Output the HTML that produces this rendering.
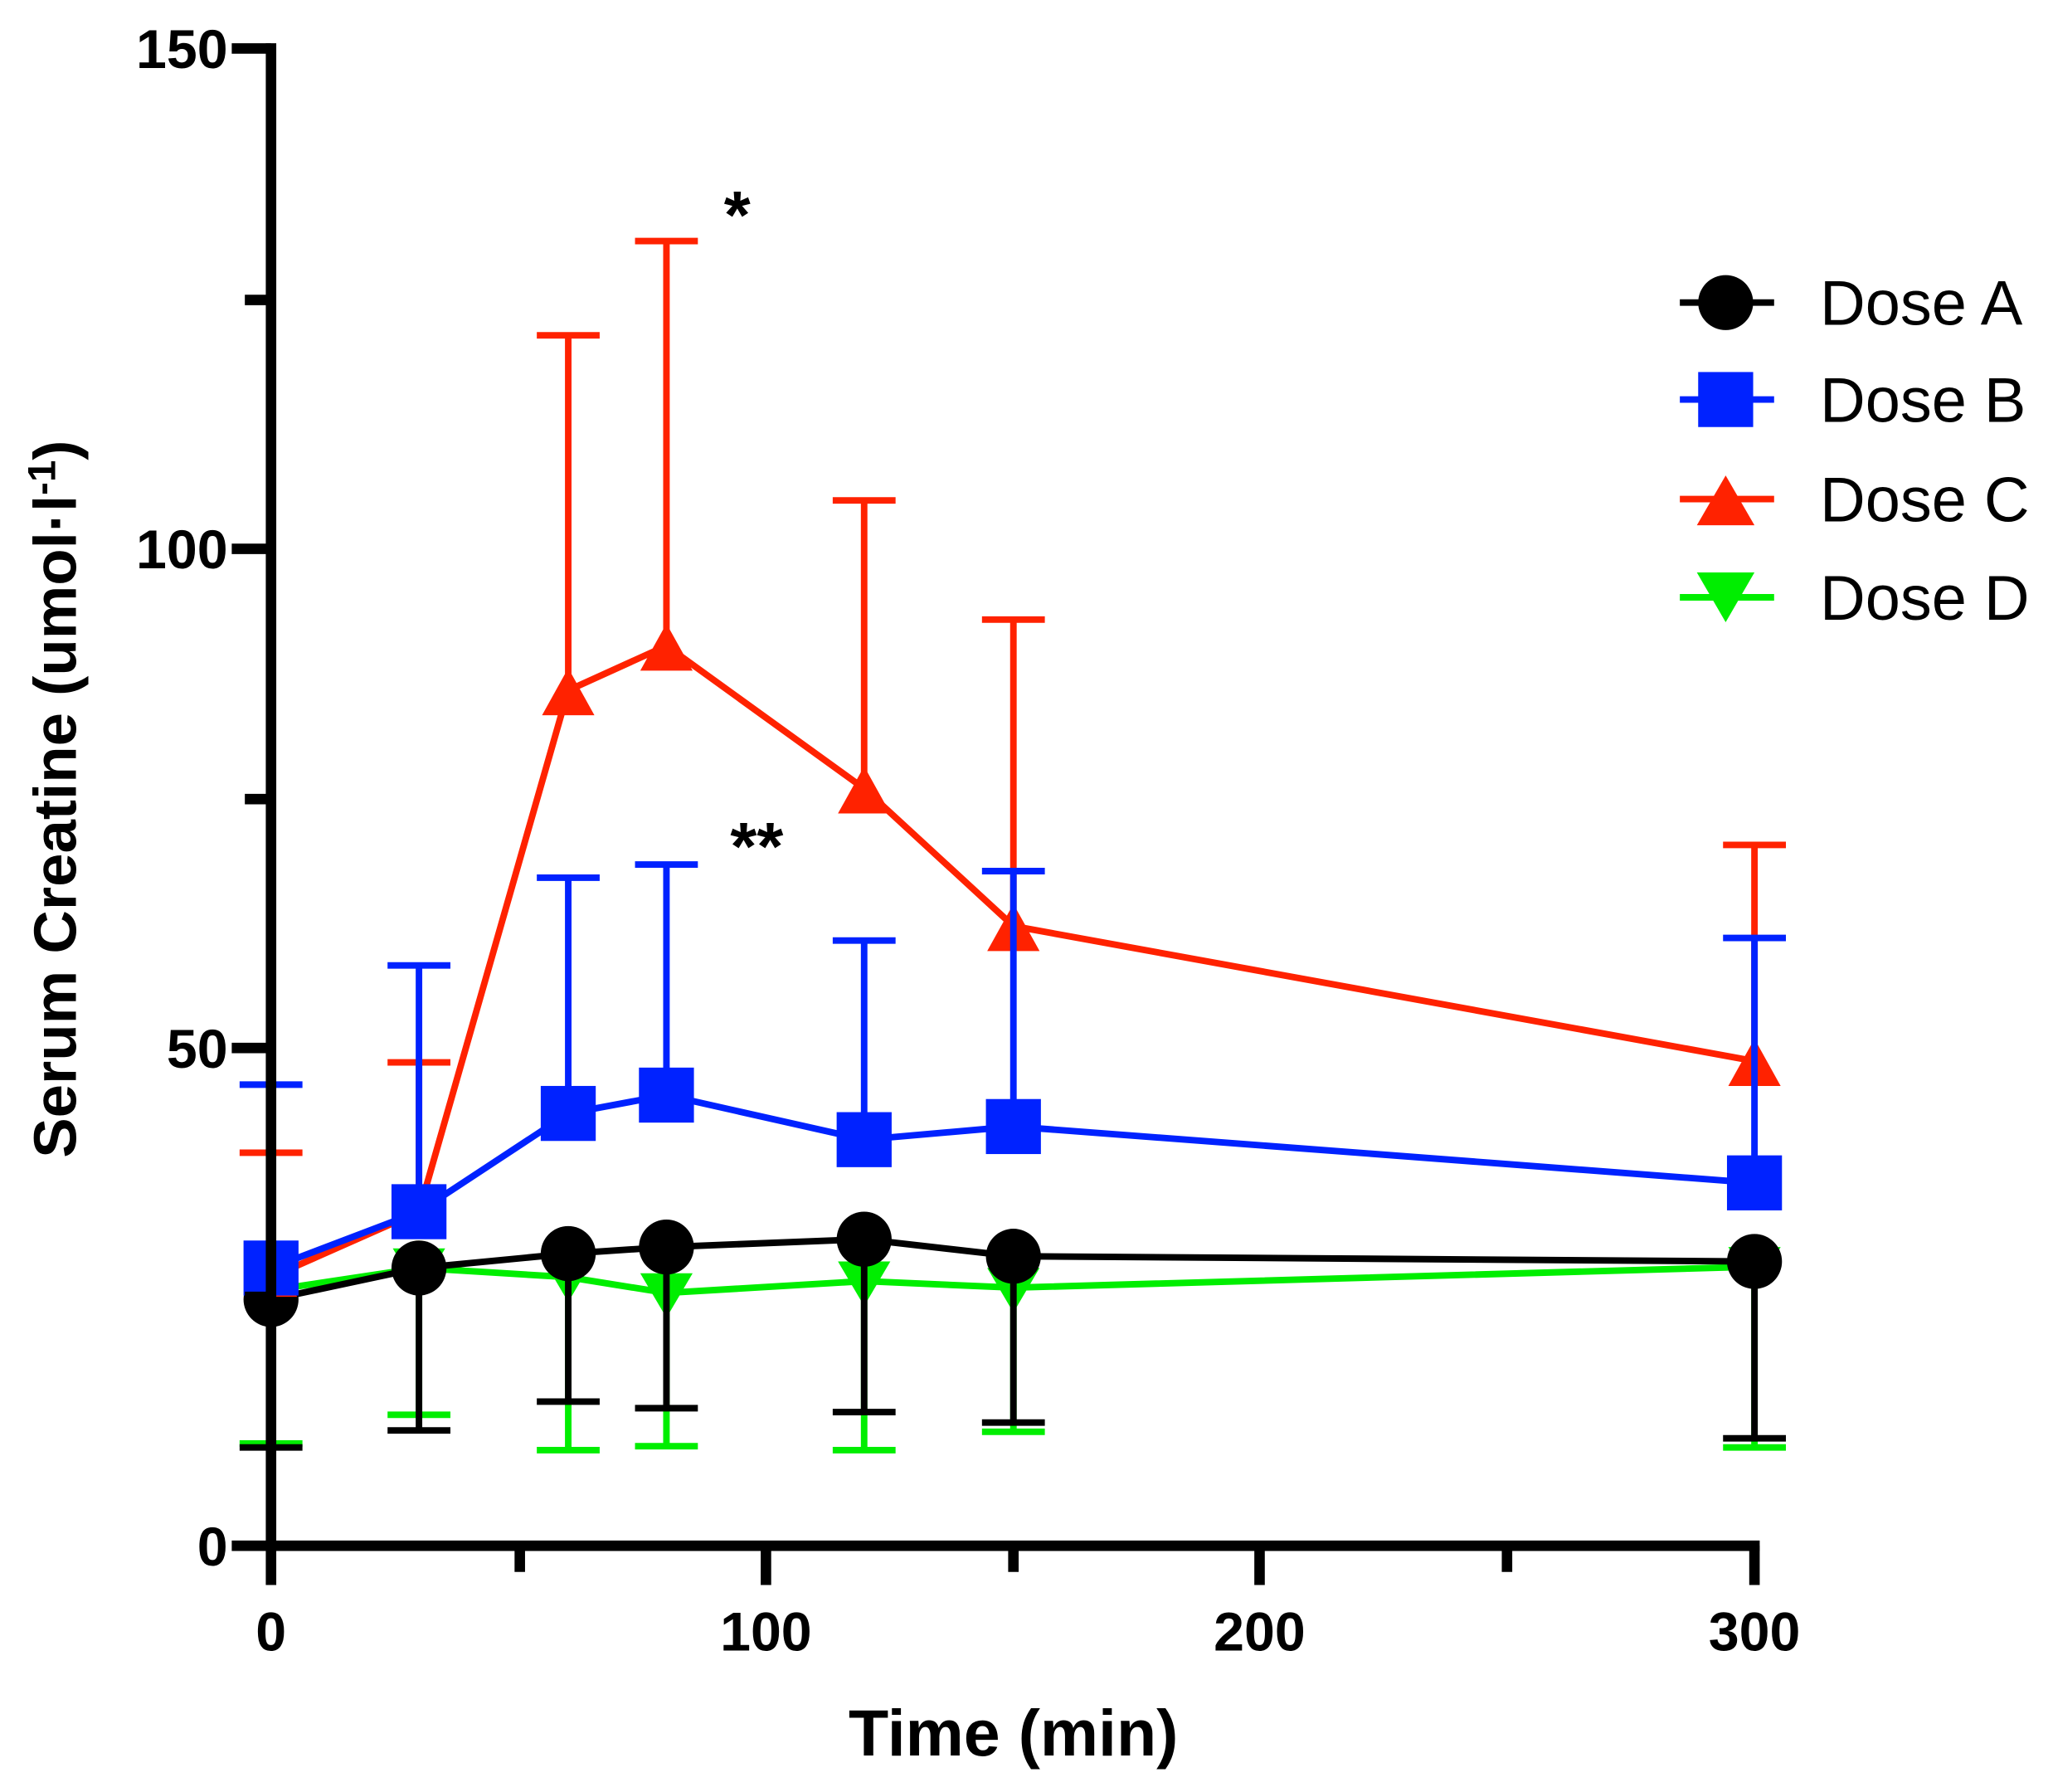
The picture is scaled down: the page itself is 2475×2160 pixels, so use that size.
<!DOCTYPE html>
<html><head><style>html,body{margin:0;padding:0;background:#fff}svg{display:block}</style></head><body>
<svg width="2475" height="2160" viewBox="0 0 1568 1368" preserveAspectRatio="none" xmlns="http://www.w3.org/2000/svg" font-family="Liberation Sans, Arial, sans-serif">
<rect width="1568" height="1368" fill="#fff"/>
<!-- Dose D green -->
<g stroke="#00ee00" stroke-width="5" fill="none">
<path d="M207,985 V1102 M183,1102 H231 M320,968 V1080 M296,1080 H344 M434,975 V1107 M410,1107 H458 M509,987 V1104 M485,1104 H533 M660,978 V1107 M636,1107 H684 M774,983 V1093 M750,1093 H798 M1340,967 V1105 M1316,1105 H1364"/>
<polyline points="207,985 320,968 434,975 509,987 660,978 774,983 1340,967"/>
</g>
<g fill="#00ee00">
<path d="M187,970 h40 l-20,34 z M300,953 h40 l-20,34 z M414,960 h40 l-20,34 z M489,972 h40 l-20,34 z M640,963 h40 l-20,34 z M754,968 h40 l-20,34 z M1320,952 h40 l-20,34 z"/>
</g>
<!-- Dose A black -->
<g stroke="#000" stroke-width="5" fill="none">
<path d="M207,992 V1105 M183,1105 H231 M320,968 V1092 M296,1092 H344 M434,957 V1070 M410,1070 H458 M509,952 V1075 M485,1075 H533 M660,946 V1078 M636,1078 H684 M774,959 V1086 M750,1086 H798 M1340,963 V1098 M1316,1098 H1364"/>
<polyline points="207,992 320,968 434,957 509,952 660,946 774,959 1340,963"/>
</g>
<g fill="#000"><circle cx="207" cy="992" r="21"/><circle cx="320" cy="968" r="21"/><circle cx="434" cy="957" r="21"/><circle cx="509" cy="952" r="21"/><circle cx="660" cy="946" r="21"/><circle cx="774" cy="959" r="21"/><circle cx="1340" cy="963" r="21"/></g>
<!-- Dose C red -->
<g stroke="#ff2200" stroke-width="5" fill="none">
<path d="M207,975 V880 M183,880 H231 M320,925 V811 M296,811 H344 M434,527 V256 M410,256 H458 M509,493 V184 M485,184 H533 M660,602 V382 M636,382 H684 M774,707 V473 M750,473 H798 M1340,810 V645 M1316,645 H1364"/>
<polyline points="207,975 320,925 434,527 509,493 660,602 774,707 1340,810"/>
</g>
<g fill="#ff2200"><path d="M187,990 h40 l-20,-34 z M300,940 h40 l-20,-34 z M414,546 h40 l-20,-36 z M489,512 h40 l-20,-36 z M640,621 h40 l-20,-36 z M754,726 h40 l-20,-36 z M1320,829 h40 l-20,-36 z"/></g>
<!-- Dose B blue -->
<g stroke="#0022ff" stroke-width="5" fill="none">
<path d="M207,968 V828 M183,828 H231 M320,925 V737 M296,737 H344 M434,850 V670 M410,670 H458 M509,836 V660 M485,660 H533 M660,870 V718 M636,718 H684 M774,860 V665 M750,665 H798 M1340,903 V716 M1316,716 H1364"/>
<polyline points="207,968 320,925 434,850 509,836 660,870 774,860 1340,903"/>
</g>
<g fill="#0022ff"><rect x="186" y="947" width="42" height="42"/><rect x="299" y="904" width="42" height="42"/><rect x="413" y="829" width="42" height="42"/><rect x="488" y="815" width="42" height="42"/><rect x="639" y="849" width="42" height="42"/><rect x="753" y="839" width="42" height="42"/><rect x="1319" y="882" width="42" height="42"/></g>
<!-- axes -->
<g stroke="#000" stroke-width="8" fill="none">
<path d="M207,33 V1184 M203,1180 H1344"/>
<path d="M177,37 H207 M187,229 H207 M177,419 H207 M187,610 H207 M177,800 H207 M187,990 H207 M177,1180 H207"/>
<path d="M207,1180 V1210 M397,1180 V1200 M585,1180 V1210 M774,1180 V1200 M962,1180 V1210 M1151,1180 V1200 M1340,1180 V1210"/>
</g>
<g font-weight="bold" font-size="42" text-anchor="end" fill="#000">
<text x="174" y="52">150</text><text x="174" y="434">100</text><text x="174" y="815">50</text><text x="174" y="1195">0</text>
</g>
<g font-weight="bold" font-size="42" text-anchor="middle" fill="#000">
<text x="207" y="1260">0</text><text x="585" y="1260">100</text><text x="962" y="1260">200</text><text x="1340" y="1260">300</text>
</g>
<text x="774" y="1340" font-weight="bold" font-size="50" text-anchor="middle">Time (min)</text>
<text transform="translate(58,610) rotate(-90)" font-weight="bold" font-size="46" text-anchor="middle">Serum Creatine (umol·l<tspan font-size="30" dy="-16">-1</tspan><tspan dy="16">)</tspan></text>
<text x="563" y="182" font-weight="bold" font-size="52" text-anchor="middle">*</text>
<text x="578" y="664" font-weight="bold" font-size="52" text-anchor="middle">**</text>
<!-- legend -->
<g stroke-width="5">
<line x1="1283" y1="231" x2="1355" y2="231" stroke="#000"/><circle cx="1318" cy="231" r="21" fill="#000"/>
<line x1="1283" y1="305" x2="1355" y2="305" stroke="#0022ff"/><rect x="1297" y="284" width="42" height="42" fill="#0022ff"/>
<line x1="1283" y1="381" x2="1355" y2="381" stroke="#ff2200"/><path d="M1296,401 h44 l-22,-38 z" fill="#ff2200"/>
<line x1="1283" y1="456" x2="1355" y2="456" stroke="#00ee00"/><path d="M1296,437 h44 l-22,38 z" fill="#00ee00"/>
</g>
<g font-size="48" fill="#000">
<text x="1390" y="248">Dose A</text><text x="1390" y="322">Dose B</text><text x="1390" y="398">Dose C</text><text x="1390" y="473">Dose D</text>
</g>
</svg>
</body></html>
